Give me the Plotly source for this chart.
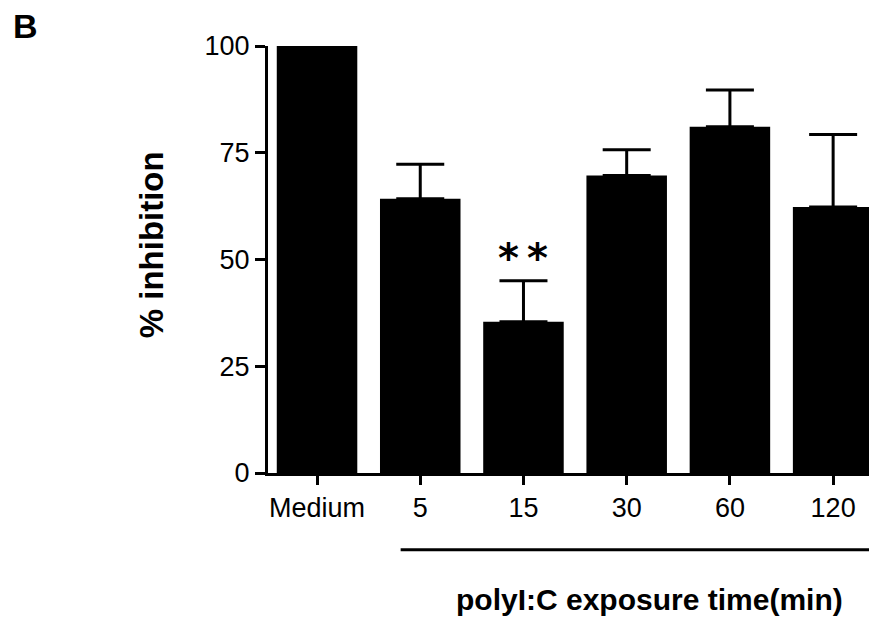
import plotly.graph_objects as go

categories = ["Medium", "5", "15", "30", "60", "120"]
inhibition = [100, 64.2, 35.4, 69.7, 81.1, 62.3]
sem_upper = [0, 8.1, 9.6, 6.0, 8.6, 17.0]
y_ticks = [0, 25, 50, 75, 100]
significance = {"15": "**"}

x_idx = list(range(len(categories)))

fig = go.Figure()
fig.add_trace(go.Bar(
    x=x_idx, y=inhibition, width=0.78,
    marker=dict(color="black", line=dict(width=0)),
    error_y=dict(type="data", array=sem_upper, symmetric=False, arrayminus=[0]*len(categories),
                 color="black", thickness=3, width=24, visible=True),
    cliponaxis=False,
))

for cat, txt in significance.items():
    i = categories.index(cat)
    fig.add_annotation(x=i, y=inhibition[i] + sem_upper[i] - 0.5, xref="x", yref="y",
                       text="<b>" + "\u2009".join(txt) + "</b>", showarrow=False, yanchor="bottom", xanchor="center",
                       font=dict(family="DejaVu Sans", size=40, color="black"))

tick_font = dict(family="Liberation Sans, Arial", size=27, color="black")

fig.update_xaxes(
    range=[-0.475, 5.425], tickmode="array", tickvals=x_idx, ticktext=categories,
    showline=True, linecolor="black", linewidth=3, ticks="outside", ticklen=9,
    tickwidth=3, tickcolor="black", showgrid=False, zeroline=False,
    tickfont=tick_font,
)
fig.update_yaxes(
    range=[0, 100], tickmode="array", tickvals=y_ticks,
    showline=True, linecolor="black", linewidth=3, ticks="outside", ticklen=10,
    tickwidth=3, tickcolor="black", showgrid=False, zeroline=False,
    tickfont=tick_font,
)

fig.add_annotation(x=-0.19, y=0.534, xref="paper", yref="paper", text="<b>% inhibition</b>",
                   textangle=-90, showarrow=False, xanchor="center", yanchor="middle",
                   font=dict(family="Liberation Sans, Arial", size=33, color="black"))
fig.add_annotation(x=3.22, y=-0.297, xref="x", yref="paper", text="<b>polyI:C exposure time(min)</b>",
                   showarrow=False, xanchor="center", yanchor="middle",
                   font=dict(family="Liberation Sans, Arial", size=30, color="black"))
fig.add_annotation(x=-0.399, y=1.046, xref="paper", yref="paper", text="<b>B</b>",
                   showarrow=False, xanchor="center", yanchor="middle",
                   font=dict(family="Liberation Sans, Arial", size=34, color="black"))
fig.add_shape(type="line", xref="x", yref="paper", x0=0.81, x1=5.425, y0=-0.180, y1=-0.180,
              line=dict(color="black", width=3))

fig.update_layout(
    width=877, height=623, margin=dict(l=260, r=8, t=38, b=158),
    paper_bgcolor="white", plot_bgcolor="white", showlegend=False,
)

fig.write_html("out.html")
